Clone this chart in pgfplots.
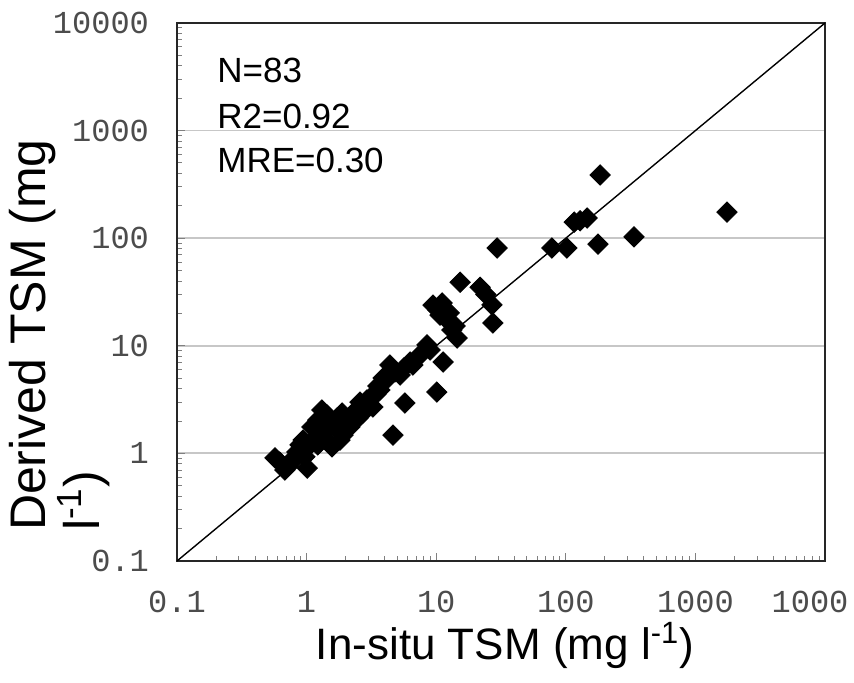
\documentclass[border=0pt]{standalone}
\usepackage{pgfplots}
\pgfplotsset{compat=1.18}
\usepackage{fontspec}
\setmainfont{Liberation Sans}
\newfontfamily\tickfont{Liberation Mono}

% In-situ vs. derived TSM (mg/l), 83 stations
\pgfplotstableread{
x y
1753 175
184 387
336 103
177 88
102 81
78 81
116 141
146 154
129 145
29.5 81
15.3 39
21.8 35
24.2 30
26.9 24
27.4 16.3
9.45 23.9
10.3 21.5
11.1 25
12.1 17.4
13.2 14.0
14.5 11.8
10.7 19.3
8.49 10.2
7.77 8.58
11.3 7.07
10.1 3.72
5.74 2.94
4.64 1.48
6.28 7.07
6.62 6.63
5.64 6.22
4.40 6.63
4.17 5.35
3.96 4.61
3.68 3.88
3.43 3.56
3.25 2.70
2.92 3.13
2.72 2.37
2.58 3.00
2.41 2.53
2.16 1.76
1.91 1.48
1.88 2.37
1.72 2.13
1.60 1.96
1.57 1.15
1.46 1.65
1.34 1.65
1.31 2.53
1.22 2.04
1.10 1.76
1.16 1.39
1.06 1.20
0.89 1.20
0.97 0.93
1.01 0.73
0.84 1.03
0.77 0.83
0.68 0.70
0.57 0.91
0.62 0.83
2.01 2.04
2.24 2.27
3.08 3.27
3.55 4.23
4.81 5.71
5.26 5.35
7.24 7.87
8.96 9.14
1.81 1.33
1.41 1.33
1.69 1.72
2.49 2.13
2.82 2.82
3.89 5.02
1.44 2.27
0.94 1.33
1.22 1.20
0.80 0.91
0.72 0.76
12.6 20.2
14.0 15.3
}\tsmdata

\begin{document}
\begin{tikzpicture}
\begin{axis}[
  scale only axis,
  width=324pt, height=269pt,
  xmode=log, ymode=log,
  xmin=0.1, xmax=10000, ymin=0.1, ymax=10000,
  xtick={0.1,1,10,100,1000,10000},
  % the rightmost label is pulled in so that it stays on the page
  xticklabels={0.1,1,10,100,1000,\hspace*{-15pt}1000},
  ytick={0.1,1,10,100,1000,10000},
  yticklabels={0.1,1,10,100,1000,10000},
  minor xtick={0.2,0.3,0.4,0.5,0.6,0.7,0.8,0.9,2,3,4,5,6,7,8,9,20,30,40,50,60,70,80,90,200,300,400,500,600,700,800,900,2000,3000,4000,5000,6000,7000,8000,9000},
  minor ytick={0.2,0.3,0.4,0.5,0.6,0.7,0.8,0.9,2,3,4,5,6,7,8,9,20,30,40,50,60,70,80,90,200,300,400,500,600,700,800,900,2000,3000,4000,5000,6000,7000,8000,9000},
  tick pos=left,
  tick align=inside,
  major tick length=4pt,
  minor tick length=2.5pt,
  tick style={black!50, line width=0.5pt},
  ymajorgrids,
  major grid style={black!22, line width=0.9pt},
  axis line style={black!85, line width=0.9pt},
  xticklabel style={font=\tickfont\fontsize{16}{16}\selectfont, text=black!70, yshift=-11.5pt},
  yticklabel style={font=\tickfont\fontsize{16}{16}\selectfont, text=black!70, xshift=-10.5pt},
  xlabel={In-situ TSM (mg l\textsuperscript{-1})},
  xlabel style={font=\fontsize{22}{26}\selectfont, at={(axis description cs:0.506,-0.157)}, anchor=center},
  ylabel={Derived TSM (mg\\l\textsuperscript{-1})},
  ylabel style={font=\fontsize{25}{25}\selectfont, align=left, at={(axis description cs:-0.181,0.42)}, anchor=center},
  clip=false,
]
% 1:1 line
\addplot[black, line width=0.7pt] coordinates {(0.1,0.1) (10000,10000)};
\addplot[only marks, mark=square*, mark size=3.6pt,
  mark options={rotate=45, black, fill=black}] table[x=x, y=y] {\tsmdata};
\node[anchor=base west, inner sep=0pt, font=\fontsize{17.5}{17.5}\selectfont] at (axis description cs:0.0617,0.8903) {N=83};
\node[anchor=base west, inner sep=0pt, font=\fontsize{17.5}{17.5}\selectfont] at (axis description cs:0.0617,0.8048) {R2=0.92};
\node[anchor=base west, inner sep=0pt, font=\fontsize{17.5}{17.5}\selectfont] at (axis description cs:0.0617,0.7230) {MRE=0.30};
\end{axis}
\pgfresetboundingbox
\useasboundingbox (-88.5pt,-61pt) rectangle (338.5pt,280.5pt);
\end{tikzpicture}
\end{document}
